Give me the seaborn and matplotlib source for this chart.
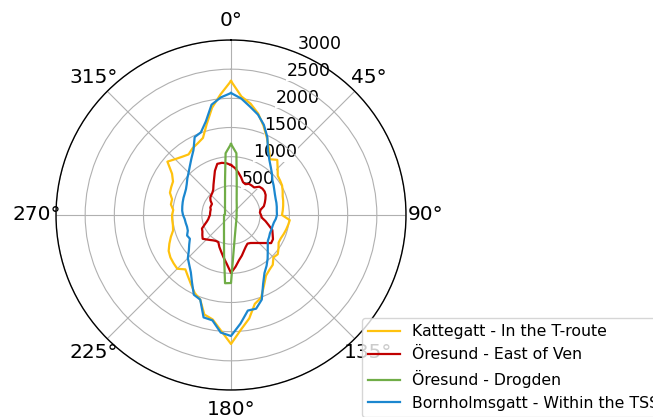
import numpy as np
import pandas as pd
import matplotlib
matplotlib.use("Agg")
import matplotlib.pyplot as plt
import seaborn as sns

# Directions (degrees, clockwise from north) at which the distributions are sampled
angles_deg = list(range(0, 360, 5))

series_names = [
    "Kattegatt - In the T-route",
    "Öresund - East of Ven",
    "Öresund - Drogden",
    "Bornholmsgatt - Within the TSS",
]

kattegatt = [2297, 2040, 1937, 1800, 1628, 1457, 1303, 1166, 1234, 1131, 1046, 1028,
             1011, 977, 943, 926, 908, 891, 874, 1011, 994, 977, 960, 943,
             943, 994, 1046, 1028, 1114, 1148, 1200, 1337, 1508, 1577, 1800, 1971,
             2211, 1988, 1817, 1766, 1543, 1474, 1371, 1286, 1217, 1303, 1286, 1268,
             1234, 1166, 1097, 1028, 1011, 1011, 1011, 994, 1046, 1046, 1114, 1131,
             1148, 1234, 1423, 1354, 1303, 1268, 1320, 1354, 1406, 1611, 1868, 2074]

east_of_ven = [857, 806, 737, 668, 600, 583, 617, 617, 617, 686, 703, 703,
               686, 651, 617, 583, 514, 497, 514, 531, 600, 668, 754, 788,
               831, 840, 747, 679, 626, 586, 566, 600, 651, 720, 788, 891,
               994, 840, 737, 651, 583, 514, 514, 531, 559, 593, 634, 600,
               566, 549, 480, 428, 394, 377, 360, 360, 360, 360, 377, 377,
               377, 428, 463, 480, 497, 531, 600, 686, 806, 908, 908, 891]

drogden = [1217, 1063, 566, 377, 283, 231, 197, 171, 154, 137, 129, 120,
           111, 106, 103, 99, 98, 96, 96, 98, 98, 99, 103, 105,
           108, 113, 120, 127, 142, 154, 170, 197, 231, 286, 377, 566,
           1166, 1174, 686, 463, 351, 285, 240, 209, 187, 170, 156, 146,
           139, 132, 127, 123, 122, 120, 120, 103, 105, 106, 110, 113,
           118, 125, 134, 146, 159, 180, 206, 243, 300, 394, 591, 1063]

bornholmsgatt = [2091, 2005, 1885, 1783, 1646, 1474, 1268, 1148, 1063, 994, 926, 891,
                 857, 831, 814, 806, 797, 788, 788, 771, 746, 737, 737, 737,
                 754, 771, 823, 891, 977, 1063, 1148, 1303, 1543, 1663, 1663, 1868,
                 2074, 2023, 1834, 1817, 1543, 1508, 1337, 1200, 1114, 1046, 943, 874,
                 814, 831, 788, 780, 788, 797, 823, 840, 848, 857, 866, 874,
                 891, 926, 977, 1028, 1097, 1183, 1286, 1474, 1508, 1663, 1920, 2023]

colors = ["#FFC20E", "#C00000", "#70AD47", "#1B87CF"]

radial_ticks = [500, 1000, 1500, 2000, 2500, 3000]
theta_ticks = [0, 45, 90, 135, 180, 225, 270, 315]
theta_labels = ["0°", "45°", "90°", "135°", "180°", "225°", "270°", "315°"]

# Long-form table (each curve closed by repeating its first point)
frames = []
for name, vals in zip(series_names, [kattegatt, east_of_ven, drogden, bornholmsgatt]):
    th = np.deg2rad(angles_deg + [angles_deg[0] + 360])
    rr = list(vals) + [vals[0]]
    frames.append(pd.DataFrame({"theta": th, "r": rr, "route": name}))
df = pd.concat(frames, ignore_index=True)

fig = plt.figure(figsize=(6.53, 4.17), dpi=100)
ax = fig.add_axes([56 / 653, 1 - 390 / 417, 350 / 653, 350 / 417], projection="polar")
ax.set_theta_zero_location("N")
ax.set_theta_direction(-1)

sns.lineplot(data=df, x="theta", y="r", hue="route", hue_order=series_names,
             palette=colors, sort=False, estimator=None, units="route",
             linewidth=1.6, ax=ax)
ax.get_legend().remove()

ax.set_ylim(0, 3000)
ax.set_rticks(radial_ticks)
ax.set_yticklabels([str(v) for v in radial_ticks])
ax.set_rlabel_position(22.5)
ax.set_xticks(np.deg2rad(theta_ticks))
ax.set_xticklabels(theta_labels)
ax.set_xlabel("")
ax.set_ylabel("")
ax.tick_params(axis="x", labelsize=14.5, pad=3.5)
ax.tick_params(axis="y", labelsize=12.5)
for t in ax.get_yticklabels():
    t.set_bbox(dict(facecolor="white", edgecolor="none", pad=0.5))
    t.set_zorder(5)
ax.grid(True, color="#b0b0b0", linewidth=0.8)
ax.spines["polar"].set_linewidth(1.0)

handles, labels = ax.get_legend_handles_labels()
fig.legend(handles, labels, loc="upper left",
           bbox_to_anchor=(362 / 653, 1 - 318 / 417), fontsize=11.3,
           frameon=True, borderaxespad=0)

fig.savefig("out.png", dpi=100)
